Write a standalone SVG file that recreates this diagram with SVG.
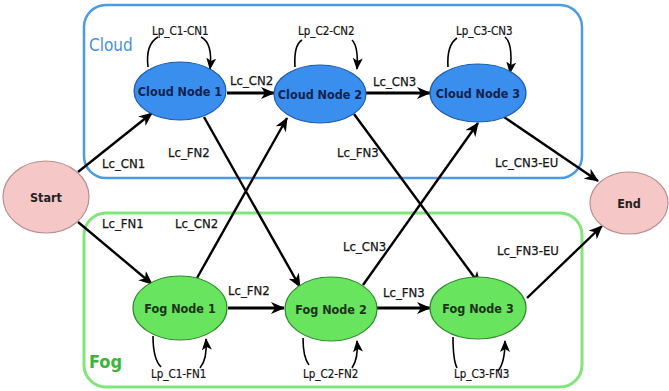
<svg xmlns="http://www.w3.org/2000/svg" width="669" height="391" viewBox="0 0 669 391">
<defs>
<style>
text{font-family:'DejaVu Sans Condensed','DejaVu Sans',sans-serif;font-stretch:condensed}
.lbl{font-size:13px;fill:#151515;stroke:#151515;stroke-width:0.25}
.lp{font-size:11.5px;fill:#151515;stroke:#151515;stroke-width:0.2}
.nt{font-size:12.5px;font-weight:bold;text-anchor:middle;dominant-baseline:central}
.cn{fill:#3a8fee;stroke:#1d5ca8;stroke-width:1.2}
.fn{fill:#68e45f;stroke:#2f8a2c;stroke-width:1.2}
.se{fill:#f6c7c7;stroke:#b89090;stroke-width:1.2}
.e{fill:none;stroke:#000;stroke-width:2.4;marker-end:url(#ah)}
.h{stroke-width:3.2}
.lo{fill:none;stroke:#000;stroke-width:1.6}
.la{marker-end:url(#ah2)}
</style>
<marker id="ah" markerUnits="userSpaceOnUse" markerWidth="14" markerHeight="12" viewBox="0 0 14 12" refX="13" refY="6" orient="auto">
<path d="M0,0 L14,6 L0,12 L4,6 z" fill="#000"/>
</marker>
<marker id="ah2" markerUnits="userSpaceOnUse" markerWidth="12" markerHeight="10" viewBox="0 0 12 10" refX="11" refY="5" orient="auto">
<path d="M0,0 L12,5 L0,10 L3,5 z" fill="#000"/>
</marker>
</defs>
<rect width="669" height="391" fill="#fff"/>
<g id="cloud-group">
<rect x="84" y="5" width="498" height="173" rx="22" fill="none" stroke="#4a9be2" stroke-width="2.5"/>
<text x="89" y="51" style="font-size:17px;fill:#4a90d9">Cloud</text>
</g>
<g id="fog-group">
<rect x="84" y="213" width="498" height="174" rx="22" fill="none" stroke="#80e67a" stroke-width="3"/>
<text x="89" y="368" style="font-size:18px;font-weight:bold;fill:#3db43a">Fog</text>
</g>
<g id="connectors">
<path class="e" d="M78,172 L152,113"/>
<path class="e" d="M78,222 L152,284"/>
<path class="e h" d="M227,93 L274,93"/>
<path class="e h" d="M366,93 L430,93"/>
<path class="e h" d="M228,308 L284,308"/>
<path class="e h" d="M377,308 L430,308"/>
<path class="e" d="M204,117 L300,287"/>
<path class="e" d="M197,278 L287,118"/>
<path class="e" d="M354,114 L480,285"/>
<path class="e" d="M363,285 L478,123"/>
<path class="e" d="M504,117 L598,181"/>
<path class="e" d="M527,298 L602,226"/>
<path class="lo" d="M148,67 C146,50 151,41 158,37"/>
<path class="lo la" d="M201,37 C209,41 212,52 210,69"/>
<path class="lo" d="M295,67 C294,51 297,43 302,40"/>
<path class="lo la" d="M352,40 C357,45 358,55 357,69"/>
<path class="lo" d="M448,67 C447,51 451,42 457,38"/>
<path class="lo la" d="M505,37 C511,42 512,56 510,73"/>
<path class="lo" d="M153,336 C153,352 156,362 161,367"/>
<path class="lo la" d="M200,368 C205,362 207,352 206,339"/>
<path class="lo" d="M303,338 C303,352 305,360 309,365"/>
<path class="lo la" d="M352,368 C356,362 358,352 357,341"/>
<path class="lo" d="M453,337 C453,352 454,362 457,368"/>
<path class="lo la" d="M498,371 C503,365 505,354 505,341"/>
<text class="lbl" x="102" y="168">Lc_CN1</text>
<text class="lbl" x="168" y="157">Lc_FN2</text>
<text class="lbl" x="230" y="85">Lc_CN2</text>
<text class="lbl" x="373" y="86">Lc_CN3</text>
<text class="lbl" x="337" y="157">Lc_FN3</text>
<text class="lbl" x="495" y="167">Lc_CN3-EU</text>
<text class="lbl" x="102" y="228">Lc_FN1</text>
<text class="lbl" x="175" y="228">Lc_CN2</text>
<text class="lbl" x="228" y="295">Lc_FN2</text>
<text class="lbl" x="343" y="251">Lc_CN3</text>
<text class="lbl" x="383" y="297">Lc_FN3</text>
<text class="lbl" x="497" y="255">Lc_FN3-EU</text>
<text class="lp" x="152" y="35">Lp_C1-CN1</text>
<text class="lp" x="298" y="35">Lp_C2-CN2</text>
<text class="lp" x="456" y="35">Lp_C3-CN3</text>
<text class="lp" x="151" y="378">Lp_C1-FN1</text>
<text class="lp" x="303" y="378">Lp_C2-FN2</text>
<text class="lp" x="454" y="378">Lp_C3-FN3</text>
</g>
<g id="start">
<ellipse class="se" cx="46" cy="197" rx="43" ry="36"/>
<text class="nt" x="46" y="197" style="fill:#222">Start</text>
</g>
<g id="end">
<ellipse class="se" cx="629" cy="203" rx="39" ry="31"/>
<text class="nt" x="629" y="203" style="fill:#222">End</text>
</g>
<g id="cloud-node-1">
<ellipse class="cn" cx="180" cy="91" rx="46" ry="29"/>
<text class="nt" x="180" y="91" style="fill:#10224f">Cloud Node 1</text>
</g>
<g id="cloud-node-2">
<ellipse class="cn" cx="320" cy="94" rx="46" ry="29"/>
<text class="nt" x="320" y="94" style="fill:#10224f">Cloud Node 2</text>
</g>
<g id="cloud-node-3">
<ellipse class="cn" cx="478" cy="93" rx="48" ry="29"/>
<text class="nt" x="478" y="93" style="fill:#10224f">Cloud Node 3</text>
</g>
<g id="fog-node-1">
<ellipse class="fn" cx="180" cy="308" rx="47" ry="32"/>
<text class="nt" x="180" y="308" style="fill:#1a331a">Fog Node 1</text>
</g>
<g id="fog-node-2">
<ellipse class="fn" cx="331" cy="309" rx="46" ry="32"/>
<text class="nt" x="331" y="309" style="fill:#1a331a">Fog Node 2</text>
</g>
<g id="fog-node-3">
<ellipse class="fn" cx="478" cy="308" rx="48" ry="31"/>
<text class="nt" x="478" y="308" style="fill:#1a331a">Fog Node 3</text>
</g>
</svg>
